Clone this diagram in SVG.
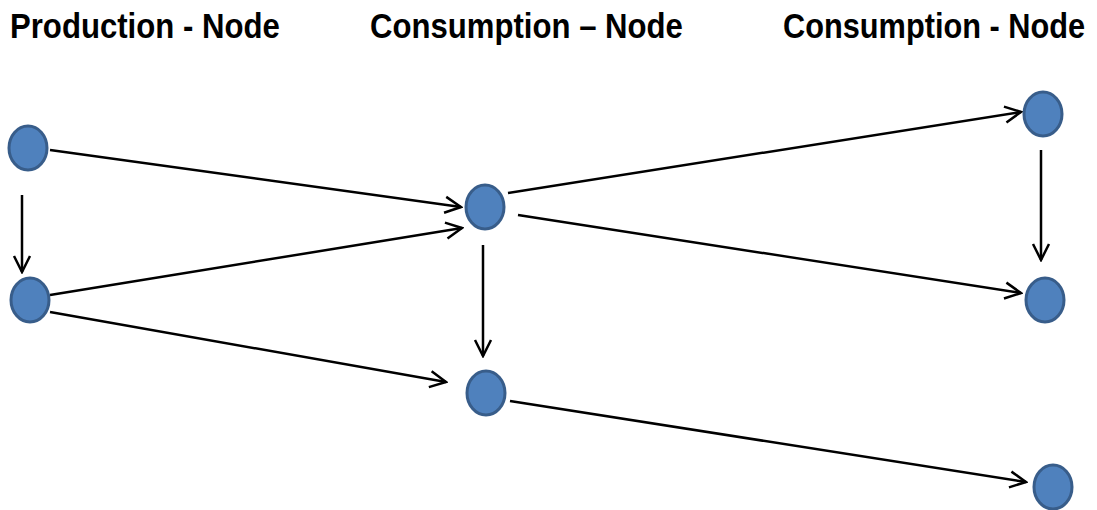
<svg xmlns="http://www.w3.org/2000/svg" width="1097" height="510" viewBox="0 0 1097 510">
<defs>
<marker id="arr" viewBox="0 0 20 20" refX="18" refY="10" markerWidth="20" markerHeight="20" markerUnits="userSpaceOnUse" orient="auto">
<path d="M2,2 L18,10 L2,18" fill="none" stroke="#000" stroke-width="2.5"/>
</marker>
<style>
.t{font-family:"Liberation Sans",Arial,sans-serif;font-weight:bold;font-size:36px;fill:#000}
.n{fill:#4F81BD;stroke:#385D8A;stroke-width:3}
.e{stroke:#000;stroke-width:2.5;fill:none;marker-end:url(#arr)}
</style>
</defs>
<rect width="1097" height="510" fill="#fff"/>
<g id="labels" transform="scale(0.83,1)">
<text class="t" x="12.05" y="38" textLength="325" lengthAdjust="spacingAndGlyphs">Production - Node</text>
<text class="t" x="445.8" y="38" textLength="377" lengthAdjust="spacingAndGlyphs">Consumption  – Node</text>
<text class="t" x="943.4" y="38" textLength="364" lengthAdjust="spacingAndGlyphs">Consumption  - Node</text>
</g>
<g id="connectors">
<line class="e" x1="50" y1="150" x2="461" y2="207"/>
<line class="e" x1="22" y1="195" x2="22" y2="272"/>
<line class="e" x1="50" y1="295" x2="462" y2="228"/>
<line class="e" x1="50" y1="312" x2="446" y2="382"/>
<line class="e" x1="483" y1="245" x2="483" y2="356"/>
<line class="e" x1="508" y1="193" x2="1021" y2="112"/>
<line class="e" x1="518" y1="215" x2="1021" y2="293"/>
<line class="e" x1="1041" y1="150" x2="1041" y2="260"/>
<line class="e" x1="510" y1="401" x2="1026" y2="482"/>
</g>
<g id="p1"><ellipse class="n" cx="28" cy="148" rx="19" ry="22"/></g>
<g id="p2"><ellipse class="n" cx="30" cy="300" rx="19" ry="22"/></g>
<g id="c1"><ellipse class="n" cx="485" cy="207" rx="19" ry="22"/></g>
<g id="c2"><ellipse class="n" cx="486" cy="393" rx="19" ry="22"/></g>
<g id="r1"><ellipse class="n" cx="1043" cy="114" rx="19" ry="22"/></g>
<g id="r2"><ellipse class="n" cx="1045" cy="300" rx="19" ry="22"/></g>
<g id="r3"><ellipse class="n" cx="1053" cy="487" rx="19" ry="22"/></g>
</svg>
